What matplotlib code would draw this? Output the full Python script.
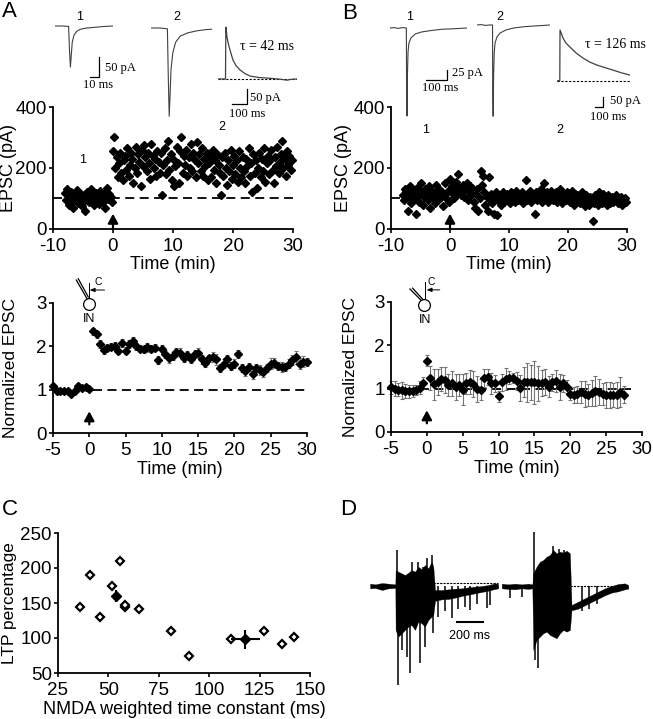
import numpy as np
import matplotlib.pyplot as plt

plt.rcParams['font.family'] = ['Liberation Sans', 'DejaVu Sans']
plt.rcParams['axes.unicode_minus'] = False
SERIF = ['Liberation Serif', 'DejaVu Serif']

# ---- panel A / B top: EPSC amplitude over time (one sweep every 12 s) ----
A_pre_t = np.round(np.arange(-8, 0, 0.2), 2)
A_pre = [118, 95, 130, 80, 105, 122, 90, 70, 112, 100, 128, 85, 96, 115, 75, 108, 92, 60, 120, 100,
         88, 110, 130, 95, 78, 105, 118, 92, 82, 125, 100, 110, 90, 70, 120, 135, 98, 115, 105, 88]
A_post_t = np.round(np.arange(0, 30, 0.2), 2)
A_post = [255, 300, 200, 235, 170, 215, 250, 185, 160, 225,
          240, 195, 265, 175, 210, 250, 230, 150, 200, 270,
          185, 245, 220, 140, 260, 205, 275, 235, 190, 250,
          215, 165, 280, 240, 200, 230, 175, 255, 220, 185,
          250, 110, 210, 265, 180, 225, 290, 195, 245, 160,
          230, 140, 205, 270, 215, 150, 255, 300, 185, 240,
          210, 260, 175, 235, 200, 280, 190, 250, 225, 170,
          285, 215, 245, 190, 265, 175, 230, 205, 250, 160,
          215, 240, 170, 260, 195, 225, 150, 245, 210, 185,
          110, 235, 175, 250, 200, 145, 225, 190, 260, 165,
          210, 240, 180, 225, 155, 255, 200, 170, 235, 190,
          150, 230, 205, 265, 175, 215, 120, 245, 185, 225,
          135, 200, 250, 170, 230, 190, 265, 155, 215, 240,
          180, 225, 260, 195, 150, 235, 205, 270, 185, 220,
          245, 290, 200, 230, 175, 255, 210, 240, 195, 225]

B_pre_t = np.round(np.arange(-8, 0, 0.2), 2)
B_pre = [110, 95, 130, 120, 60, 105, 140, 85, 115, 125, 100, 50, 135, 110, 90, 150, 120, 80, 105, 130,
         115, 95, 140, 70, 110, 125, 100, 85, 145, 115, 95, 130, 105, 120, 75, 110, 150, 100, 125, 90]
B_post_t = np.round(np.arange(0, 30, 0.2), 2)
B_post = [165, 120, 140, 100, 130, 155, 115, 180, 135, 110,
          125, 145, 105, 130, 150, 95, 120, 140, 110, 135,
          90, 70, 115, 130, 60, 100, 190, 145, 175, 120,
          80, 105, 60, 170, 95, 115, 85, 50, 100, 120,
          45, 95, 110, 80, 105, 120, 90, 100, 115, 95,
          105, 85, 120, 100, 110, 90, 125, 105, 95, 115,
          100, 120, 85, 110, 160, 95, 115, 105, 125, 90,
          110, 100, 50, 120, 95, 115, 105, 130, 90, 110,
          150, 100, 120, 90, 115, 105, 125, 95, 110, 100,
          120, 90, 110, 130, 100, 85, 115, 105, 95, 120,
          100, 110, 90, 125, 105, 80, 115, 95, 110, 100,
          85, 105, 120, 95, 75, 110, 100, 90, 80, 105,
          95, 25, 85, 110, 100, 80, 120, 95, 105, 85,
          115, 90, 100, 80, 110, 95, 85, 105, 90, 100,
          95, 110, 85, 100, 90, 105, 80, 95, 100, 90]

# ---- normalized EPSC (mean +/- sem every 30 s) ----
A_norm_t = np.round(np.arange(-5, 30.01, 0.5), 2)
A_norm = [1.08, 0.97, 0.97, 0.96, 0.97, 0.90, 0.98, 1.08, 1.03, 1.07,
          1.01, 2.35, 2.28, 2.05, 1.92, 1.97, 1.99, 2.00, 1.90, 2.08,
          1.90, 2.05, 2.12, 2.00, 1.95, 1.93, 1.98, 1.95, 1.97, 1.68,
          1.95, 1.82, 1.72, 1.78, 1.88, 1.85, 1.72, 1.80, 1.70, 1.82,
          1.85, 1.70, 1.62, 1.72, 1.75, 1.70, 1.50, 1.60, 1.70, 1.55,
          1.60, 1.82, 1.50, 1.42, 1.52, 1.36, 1.50, 1.45, 1.40, 1.50,
          1.60, 1.62, 1.55, 1.52, 1.52, 1.60, 1.68, 1.75, 1.60, 1.65,
          1.64]
A_norm_err = [0.05, 0.04, 0.04, 0.05, 0.04, 0.05, 0.06, 0.07, 0.05, 0.05,
              0.04, 0.08, 0.08, 0.09, 0.10, 0.08, 0.08, 0.09, 0.08, 0.10,
              0.08, 0.09, 0.10, 0.08, 0.09, 0.08, 0.10, 0.09, 0.08, 0.09,
              0.08, 0.10, 0.10, 0.09, 0.08, 0.10, 0.09, 0.10, 0.09, 0.10,
              0.12, 0.10, 0.10, 0.09, 0.11, 0.12, 0.10, 0.10, 0.11, 0.10,
              0.10, 0.09, 0.10, 0.11, 0.10, 0.12, 0.10, 0.11, 0.10, 0.10,
              0.12, 0.11, 0.10, 0.12, 0.10, 0.11, 0.12, 0.15, 0.12, 0.12,
              0.10]

B_norm_t = np.round(np.arange(-5, 27.51, 0.5), 2)
B_norm = [1.03, 1.00, 0.97, 0.96, 0.95, 0.94, 0.95, 0.97, 1.02, 1.13,
          1.65, 1.24, 1.10, 1.15, 1.22, 1.20, 1.08, 1.12, 1.05, 1.08,
          0.98, 1.12, 1.15, 1.10, 1.00, 0.98, 1.25, 1.27, 1.12, 1.12,
          0.82, 1.15, 1.22, 1.25, 1.24, 1.18, 1.02, 1.15, 1.15, 1.15,
          1.15, 1.12, 1.12, 1.15, 1.05, 1.15, 1.18, 1.05, 1.12, 1.05,
          0.88, 0.85, 0.87, 0.92, 0.88, 0.86, 0.90, 0.95, 0.92, 0.88,
          0.85, 0.86, 0.85, 0.86, 0.92, 0.86]
B_norm_err = [0.15, 0.18, 0.15, 0.20, 0.16, 0.15, 0.14, 0.12, 0.15, 0.14,
              0.13, 0.28, 0.35, 0.30, 0.28, 0.30, 0.25, 0.28, 0.30, 0.25,
              0.35, 0.25, 0.28, 0.30, 0.30, 0.25, 0.20, 0.18, 0.25, 0.20,
              0.12, 0.20, 0.25, 0.15, 0.12, 0.20, 0.30, 0.35, 0.45, 0.40,
              0.50, 0.40, 0.30, 0.30, 0.25, 0.20, 0.25, 0.30, 0.20, 0.15,
              0.15, 0.18, 0.20, 0.25, 0.30, 0.25, 0.30, 0.35, 0.30, 0.25,
              0.30, 0.30, 0.28, 0.30, 0.35, 0.20]

# ---- panel C ----
C_tau = [36, 41, 46, 52, 56, 58, 58, 65, 81, 90, 111, 127, 136, 142]
C_ltp = [145, 190, 130, 174, 210, 145, 147, 142, 110, 75, 99, 110, 92, 102]
C_mean_tau = [54, 118]
C_mean_ltp = [160, 98]
C_mean_xerr = [2, 7]
C_mean_yerr = [9, 14]

# ---- example traces (ms, pA) ----
A1_t = [0, 8, 15, 16, 17, 18, 19, 21, 24, 28, 35, 45, 55, 64]
A1_i = [0, 0, -1, -60, -100, -70, -40, -22, -13, -8, -5, -3, -1, 0]
A2_t = [0, 10, 18, 19, 20, 21, 22, 24, 27, 32, 40, 50, 60, 67]
A2_i = [0, 0, -2, -120, -215, -160, -100, -60, -35, -20, -12, -7, -4, -3]
At_t = [0, 50, 52, 53, 60, 70, 80, 100, 120, 147, 180, 213, 270, 327, 380, 433, 460, 490, 527]
At_i = [0, 0, 150, 173, 140, 115, 97, 63, 45, 30, 18, 10, 5, 3, 1, -2, -4, -1, 0]
B1_t = [0, 20, 40, 60, 78, 79, 81, 83, 86, 90, 100, 120, 150, 200, 250, 300, 367]
B1_i = [0, 1, -1, 1, 0, -150, -220, -120, -60, -38, -25, -15, -10, -6, -3, -2, 0]
B2_t = [0, 20, 40, 60, 74, 75, 77, 79, 82, 86, 95, 110, 140, 180, 230, 290, 348]
B2_i = [0, 1, -1, 0, 0, -160, -228, -130, -70, -45, -30, -20, -12, -7, -4, -2, 0]
Bt_t = [0, 35, 37, 38, 75, 112, 162, 240, 325, 410, 500, 600, 700, 800, 912]
Bt_i = [0, 0, 200, 253, 213, 188, 168, 138, 113, 93, 78, 65, 53, 40, 28]

# ---- panel D: burst-evoked currents, envelopes + single spikes ----
D1_t = [0, 40, 90, 140, 190, 192, 212, 238, 262, 288, 312, 338, 362, 388, 412, 438, 462, 475,
        488, 538, 588, 638, 688, 738, 788, 838, 888, 938, 962]
D1_hi = [14, 10, 18, 14, 10, 96, 86, 76, 66, 80, 96, 86, 116, 100, 126, 106, 146, 116,
         -24, -24, -20, -16, -14, -8, -4, 0, 6, 16, 12]
D1_lo = [-14, -12, -24, -14, -12, -264, -304, -284, -264, -244, -234, -264, -214, -224, -244, -204, -184, -174,
         -90, -80, -78, -70, -60, -52, -44, -36, -28, -18, -14]
D1_spk_t = [200, 318, 358, 400, 425, 468, 212, 238, 275, 300, 375, 412, 475, 512, 560, 612, 660, 712, 750,
            800, 875, 900]
D1_spk_v = [216, 142, 142, 116, 166, 186, -594, -384, -424, -524, -464, -364, -284, -184, -150, -194, -140,
            -124, -144, -110, -134, -114]
D2_t = [988, 1038, 1088, 1138, 1188, 1218, 1225, 1250, 1275, 1300, 1325, 1350, 1375, 1400, 1425, 1450, 1475, 1500,
        1512, 1562, 1612, 1662, 1712, 1762, 1812, 1862, 1912, 1938]
D2_hi = [14, 10, 14, 10, 14, 10, 76, 116, 146, 156, 176, 186, 216, 196, 206, 200, 212, 196,
         -114, -94, -74, -54, -34, -14, 0, 12, 16, 6]
D2_lo = [-14, -18, -20, -14, -18, -14, -384, -324, -304, -284, -274, -294, -304, -314, -284, -264, -274, -264,
         -146, -136, -116, -96, -76, -56, -40, -32, -20, -16]
D2_spk_t = [1230, 1375, 1418, 1458, 1238, 1260, 1050, 1138, 1590, 1640, 1700]
D2_spk_v = [326, 240, 220, 216, -444, -494, -74, -64, -150, -140, -110]

W, H = 653, 719
fig = plt.figure(figsize=(W / 100, H / 100), dpi=100)


def px_axes(l, t, r, b):
    return fig.add_axes([l / W, 1 - b / H, (r - l) / W, (b - t) / H])


def style(ax, xlim, ylim, xticks, yticks):
    ax.set_xlim(xlim)
    ax.set_ylim(ylim)
    ax.set_xticks(xticks)
    ax.set_yticks(yticks)
    for s in ['top', 'right']:
        ax.spines[s].set_visible(False)
    for s in ['left', 'bottom']:
        ax.spines[s].set_linewidth(1.3)
    ax.tick_params(labelsize=13.5, length=3, width=1.2, pad=1.5)
    ax.tick_params(axis='x', pad=3.5)
    ax.patch.set_alpha(0)


def labels(ax, xlab, ylab, xpos, ypos, ysize=13):
    ax.set_xlabel(xlab, fontsize=13)
    ax.set_ylabel(ylab, fontsize=ysize)
    ax.xaxis.set_label_coords(0.5, xpos)
    ax.yaxis.set_label_coords(ypos, 0.5)


def trace_ax(box, xlim, ylim):
    ax = px_axes(*box)
    ax.set_xlim(xlim)
    ax.set_ylim(ylim)
    ax.axis('off')
    return ax


def up_arrow(ax, y0, y1):
    ax.annotate('', xy=(0, y1), xytext=(0, y0),
                arrowprops=dict(arrowstyle='-|>,head_width=0.3,head_length=0.55', color='black',
                                lw=1.6, shrinkA=0, shrinkB=0))


dash = (0, (5, 3))

# ---------------- A top ----------------
ax = px_axes(53, 107, 293, 229)
style(ax, (-10, 30), (0, 400), [-10, 0, 10, 20, 30], [0, 200, 400])
ax.plot([-10, 30], [100, 100], color='black', lw=1.3, ls=dash, zorder=1)
ax.plot(A_pre_t, A_pre, 'D', color='black', ms=4, zorder=2, clip_on=False)
ax.plot(A_post_t, A_post, 'D', color='black', ms=4, zorder=2, clip_on=False)
up_arrow(ax, 2, 50)
ax.text(-5, 226, '1', fontsize=9, ha='center', va='center')
ax.text(18.2, 334, '2', fontsize=9, ha='center', va='center')
labels(ax, 'Time (min)', 'EPSC (pA)', -0.225, -0.15)

# ---------------- B top ----------------
ax = px_axes(391, 107, 627, 229)
style(ax, (-10, 30), (0, 400), [-10, 0, 10, 20, 30], [0, 200, 400])
ax.plot([-10, 30], [100, 100], color='black', lw=1.3, ls=dash, zorder=1)
ax.plot(B_pre_t, B_pre, 'D', color='black', ms=4, zorder=2, clip_on=False)
ax.plot(B_post_t, B_post, 'D', color='black', ms=4, zorder=2, clip_on=False)
up_arrow(ax, 2, 50)
ax.text(-4.2, 325, '1', fontsize=9, ha='center', va='center')
ax.text(18.6, 325, '2', fontsize=9, ha='center', va='center')
labels(ax, 'Time (min)', 'EPSC (pA)', -0.225, -0.165)


def cell_icon(ax, cx, cy, pip1, pip2, vline, arr, ctext, intext):
    ax.plot(cx, cy, 'o', ms=8.5, mfc='white', mec='black', mew=0.9, clip_on=False, zorder=5)
    ax.plot(*pip1, color='black', lw=0.9, clip_on=False)
    ax.plot(*pip2, color='black', lw=0.9, clip_on=False)
    ax.plot(*vline, color='black', lw=0.7, clip_on=False)
    ax.annotate('', xy=arr[1], xytext=arr[0], annotation_clip=False,
                arrowprops=dict(arrowstyle='-|>,head_width=0.12,head_length=0.3', color='black', lw=0.7,
                                shrinkA=0, shrinkB=0))
    ax.text(ctext[0], ctext[1], 'C', fontsize=7.5, ha='center', va='center')
    ax.text(intext[0], intext[1], 'IN', fontsize=9, ha='center', va='center')


# ---------------- A bottom ----------------
ax = px_axes(53, 303, 307, 433)
style(ax, (-5, 30), (0, 3), [-5, 0, 5, 10, 15, 20, 25, 30], [0, 1, 2, 3])
ax.plot([0.5, 30], [1, 1], color='black', lw=1.3, ls=dash, zorder=1)
ax.errorbar(A_norm_t, A_norm, yerr=A_norm_err, fmt='D', color='black', ms=4,
            ecolor='0.45', elinewidth=0.8, capsize=1.5, capthick=0.8, clip_on=False)
up_arrow(ax, 0.2, 0.5)
cell_icon(ax, 0, 2.98, ([-1.79, -0.28], [3.53, 3.09]), ([-1.52, -0.14], [3.56, 3.14]),
          ([-0.1, -0.1], [3.46, 3.12]), ((2.1, 3.30), (0.05, 3.30)), (1.2, 3.48), (0, 2.64))
labels(ax, 'Time (min)', 'Normalized EPSC', -0.215, -0.138, ysize=12.5)

# ---------------- B bottom ----------------
ax = px_axes(391, 302, 642, 432)
style(ax, (-5, 30), (0, 3), [-5, 0, 5, 10, 15, 20, 25, 30], [0, 1, 2, 3])
ax.plot([-5, 28.5], [1, 1], color='black', lw=1.3, ls=dash, zorder=1)
ax.errorbar(B_norm_t, B_norm, yerr=B_norm_err, fmt='D', color='black', ms=4,
            ecolor='0.45', elinewidth=0.8, capsize=1.5, capthick=0.8, clip_on=False)
up_arrow(ax, 0.2, 0.5)
cell_icon(ax, -0.42, 2.93, ([-2.36, -0.74], [3.30, 3.03]), ([-1.99, -0.51], [3.32, 3.05]),
          ([-0.28, -0.28], [3.47, 3.09]), ((1.8, 3.28), (-0.04, 3.28)), (0.65, 3.47), (-0.3, 2.59))
labels(ax, 'Time (min)', 'Normalized EPSC', -0.215, -0.13, ysize=12.5)

# ---------------- C ----------------
ax = px_axes(58, 533, 310, 673)
style(ax, (25, 150), (50, 250), [25, 50, 75, 100, 125, 150], [50, 100, 150, 200, 250])
ax.plot(C_tau, C_ltp, 'D', ms=4.5, mfc='white', mec='black', mew=1.6, ls='none', clip_on=False)
ax.errorbar(C_mean_tau, C_mean_ltp, xerr=C_mean_xerr, yerr=C_mean_yerr, fmt='D', color='black',
            ms=5, elinewidth=1.5, capsize=0)
labels(ax, 'NMDA weighted time constant (ms)', 'LTP percentage', -0.2, -0.163, ysize=12.5)

# ---------------- traces A ----------------
tc = '0.25'
ax = trace_ax((55, 20, 113, 90), (0, 64), (-156, 14.6))
ax.plot(A1_t, A1_i, color=tc, lw=0.8)
ax.plot([38.6, 48.6, 48.6], [-124, -124, -76], color='black', lw=0.9)
ax.text(55, -102, '50 pA', fontsize=9, family=SERIF, va='center', ha='left')
ax.text(31, -144, '10 ms', fontsize=9, family=SERIF, va='center', ha='left')

ax = trace_ax((151, 20, 212, 120), (0, 67), (-224, 19.5))
ax.plot(A2_t, A2_i, color=tc, lw=0.8)

ax = trace_ax((218, 20, 297, 120), (0, 527), (-137, 197))
ax.plot([0, 527], [0, 0], color='black', lw=0.8, ls=(0, (2, 1.5)))
ax.plot(At_t, At_i, color=tc, lw=0.9)
ax.plot([93, 193, 193], [-83, -83, -33], color='black', lw=0.9)
ax.text(213, -62, '50 pA', fontsize=9, family=SERIF, va='center', ha='left')
ax.text(73, -117, '100 ms', fontsize=9, family=SERIF, va='center', ha='left')
ax.text(147, 110, 'τ = 42 ms', fontsize=10, family=SERIF, va='center', ha='left')

fig.text(80 / W, 1 - 17 / H, '1', fontsize=9, ha='center', va='center')
fig.text(177 / W, 1 - 17 / H, '2', fontsize=9, ha='center', va='center')

# ---------------- traces B ----------------
ax = trace_ax((390, 15, 467, 120), (0, 367), (-230, 32.5))
ax.plot(B1_t, B1_i, color=tc, lw=0.8)
ax.plot([171, 271, 271], [-130, -130, -105], color='black', lw=0.9)
ax.text(295, -112, '25 pA', fontsize=9, family=SERIF, va='center', ha='left')
ax.text(152, -151, '100 ms', fontsize=9, family=SERIF, va='center', ha='left')

ax = trace_ax((477, 15, 550, 120), (0, 348), (-237.5, 25))
ax.plot(B2_t, B2_i, color=tc, lw=0.8)

ax = trace_ax((557, 20, 630, 125), (0, 912), (-221, 303))
ax.plot([0, 912], [0, 0], color='black', lw=0.8, ls=(0, (2, 1.5)))
ax.plot(Bt_t, Bt_i, color=tc, lw=0.9)
ax.plot([475, 575, 575], [-132, -132, -82], color='black', lw=0.9)
ax.text(662, -102, '50 pA', fontsize=9, family=SERIF, va='center', ha='left')
ax.text(412, -181, '100 ms', fontsize=9, family=SERIF, va='center', ha='left')
ax.text(350, 183, 'τ = 126 ms', fontsize=10, family=SERIF, va='center', ha='left')

fig.text(410 / W, 1 - 17 / H, '1', fontsize=9, ha='center', va='center')
fig.text(500 / W, 1 - 17 / H, '2', fontsize=9, ha='center', va='center')

# ---------------- D ----------------
ax = trace_ax((370, 530, 628.3, 690), (0, 1938), (-624, 336))
ax.plot([475, 962], [16, 16], color='black', lw=0.8, ls=(0, (2, 1)))
ax.plot([1500, 1938], [0, 0], color='black', lw=0.8, ls=(0, (2, 1)))
ax.fill_between(D1_t, D1_lo, D1_hi, color='black', lw=0.2)
ax.fill_between(D2_t, D2_lo, D2_hi, color='black', lw=0.2)
ax.vlines(D1_spk_t, 0, D1_spk_v, color='black', lw=1.1)
ax.vlines(D2_spk_t, 0, D2_spk_v, color='black', lw=1.1)
ax.plot([650, 850], [-214, -214], color='black', lw=1.5)
ax.text(750, -300, '200 ms', fontsize=9, ha='center', va='center')

# panel letters
for lbl, x, y in [('A', 2, 1), ('B', 342, 3), ('C', 2, 499), ('D', 340, 499)]:
    fig.text(x / W, 1 - y / H, lbl, fontsize=16, ha='left', va='top')

fig.savefig('out.png', dpi=100)
